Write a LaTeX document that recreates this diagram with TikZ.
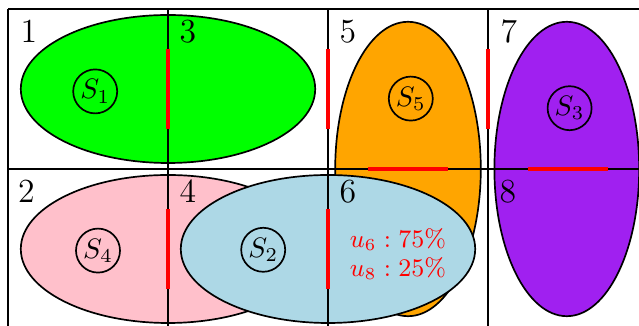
\documentclass[tikz,border=0pt]{standalone}
\begin{document}
\begin{tikzpicture}[
  gridline/.style={black, semithick},
  blob/.style={draw=black, semithick},
  cutseg/.style={red, line width=1.6pt},
  setnode/.style={circle, draw=black, semithick, minimum size=0.55cm, inner sep=0pt},
  cellnum/.style={font=\large, inner sep=0pt}
]
\definecolor{pinkc}{RGB}{255,192,203}
\definecolor{lblue}{RGB}{173,216,230}
\definecolor{orangec}{RGB}{255,165,0}
\definecolor{purplec}{RGB}{160,32,240}
\definecolor{greenc}{RGB}{0,255,0}
\useasboundingbox (-0.1,-1.9625) rectangle (7.8875,2.1125);
\clip (-0.1,-1.9625) rectangle (7.8875,2.1125);
\fill[white] (-0.1,-1.9625) rectangle (7.8875,2.1125);
% regions
\filldraw[blob, fill=greenc] (2,1) ellipse [x radius=1.84, y radius=0.925];
\filldraw[blob, fill=pinkc] (2,-1) ellipse [x radius=1.84, y radius=0.925];
\filldraw[blob, fill=orangec] (5,0) ellipse [x radius=0.91, y radius=1.84];
\filldraw[blob, fill=purplec] (6.985,0) ellipse [x radius=0.905, y radius=1.84];
\filldraw[blob, fill=lblue] (4,-1) ellipse [x radius=1.84, y radius=0.925];
% grid
\draw[gridline] (0,-2) grid[step=2] (8,2);
% cut segments
\coordinate (v1a) at (2,1.5);  \coordinate (v1b) at (2,0.5);
\coordinate (v2a) at (4,1.5);  \coordinate (v2b) at (4,0.5);
\coordinate (v3a) at (6,1.5);  \coordinate (v3b) at (6,0.5);
\coordinate (v4a) at (2,-0.5); \coordinate (v4b) at (2,-1.5);
\coordinate (v5a) at (4,-0.5); \coordinate (v5b) at (4,-1.5);
\coordinate (h1a) at (4.5,0);  \coordinate (h1b) at (5.5,0);
\coordinate (h2a) at (6.5,0);  \coordinate (h2b) at (7.5,0);
\draw[cutseg] (v1a) -- (v1b);
\draw[cutseg] (v2a) -- (v2b);
\draw[cutseg] (v3a) -- (v3b);
\draw[cutseg] (v4a) -- (v4b);
\draw[cutseg] (v5a) -- (v5b);
\draw[cutseg] (h1a) -- (h1b);
\draw[cutseg] (h2a) -- (h2b);
% cell numbers
\node[cellnum] (c1) at (0.26,1.72) {1};
\node[cellnum] (c3) at (2.25,1.72) {3};
\node[cellnum] (c5) at (4.25,1.72) {5};
\node[cellnum] (c7) at (6.26,1.72) {7};
\node[cellnum] (c2) at (0.23,-0.28) {2};
\node[cellnum] (c4) at (2.25,-0.28) {4};
\node[cellnum] (c6) at (4.25,-0.28) {6};
\node[cellnum] (c8) at (6.25,-0.28) {8};
% set labels
\node[setnode] (s1) at (1.09,0.97) {$S_1$};
\node[setnode] (s4) at (1.125,-1.02) {$S_4$};
\node[setnode] (s5) at (5.035,0.88) {$S_5$};
\node[setnode] (s3) at (7.02,0.76) {$S_3$};
\node[setnode] (s2) at (3.19,-1.01) {$S_2$};
% shares
\node[text=red, align=center, font={\fontsize{9}{10.3}\selectfont}] (share) at (4.875,-1.06) {$u_6 : 75\%$\\$u_8 : 25\%$};
\end{tikzpicture}
\end{document}
